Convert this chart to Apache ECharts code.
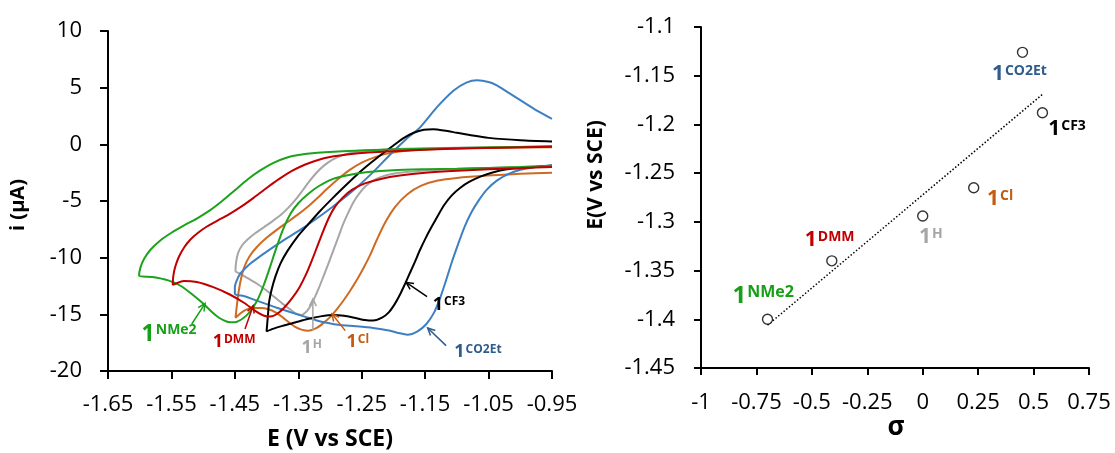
<!DOCTYPE html>
<html>
<head>
<meta charset="utf-8">
<title>Cyclic voltammetry and Hammett plot</title>
<style>
  html, body { margin: 0; padding: 0; background: #ffffff; }
  #chart { width: 1115px; height: 453px; }
</style>
<script src="https://cdn.jsdelivr.net/npm/echarts@6/dist/echarts.min.js"></script>
</head>
<body>
<div id="chart"></div>
<script>
// ---------- cyclic voltammograms: [E (V vs SCE), i (µA)], traced as closed loops ----------
const cvNMe2 = [
  [-0.95,-1.9],[-1.0,-2.0],[-1.05,-2.08],[-1.1,-2.15],[-1.15,-2.2],[-1.2,-2.28],[-1.24,-2.45],[-1.27,-2.7],
  [-1.295,-3.05],[-1.318,-3.7],[-1.335,-4.4],[-1.35,-5.2],[-1.362,-6.1],[-1.374,-7.5],[-1.385,-9.2],[-1.395,-10.9],
  [-1.405,-12.5],[-1.415,-13.8],[-1.426,-14.75],[-1.437,-15.35],[-1.45,-15.7],[-1.462,-15.65],[-1.475,-15.3],
  [-1.487,-14.75],[-1.5,-14.05],[-1.516,-13.3],[-1.535,-12.5],[-1.555,-12.0],[-1.58,-11.7],[-1.601,-11.6],
  [-1.599,-10.9],[-1.593,-10.1],[-1.583,-9.3],[-1.568,-8.5],[-1.55,-7.8],[-1.53,-7.15],[-1.51,-6.55],[-1.49,-5.85],
  [-1.47,-5.0],[-1.45,-4.05],[-1.43,-3.1],[-1.41,-2.3],[-1.39,-1.65],[-1.37,-1.2],[-1.35,-0.95],[-1.32,-0.75],
  [-1.28,-0.6],[-1.23,-0.5],[-1.15,-0.38],[-1.05,-0.27],[-0.95,-0.18]
];
const cvDMM = [
  [-0.95,-2.0],[-1.0,-2.1],[-1.05,-2.2],[-1.1,-2.32],[-1.15,-2.5],[-1.19,-2.75],[-1.22,-3.05],[-1.245,-3.45],
  [-1.265,-4.0],[-1.28,-4.7],[-1.292,-5.5],[-1.302,-6.5],[-1.311,-7.7],[-1.32,-9.0],[-1.329,-10.3],[-1.338,-11.5],
  [-1.348,-12.6],[-1.36,-13.6],[-1.372,-14.4],[-1.383,-14.95],[-1.394,-15.2],[-1.405,-15.1],[-1.418,-14.7],
  [-1.435,-14.0],[-1.458,-13.25],[-1.484,-12.6],[-1.51,-12.15],[-1.53,-12.05],[-1.548,-12.4],
  [-1.547,-11.6],[-1.544,-10.8],[-1.538,-9.9],[-1.53,-9.1],[-1.52,-8.4],[-1.508,-7.8],[-1.494,-7.25],[-1.478,-6.75],
  [-1.46,-6.2],[-1.44,-5.5],[-1.42,-4.7],[-1.4,-3.85],[-1.38,-3.05],[-1.36,-2.35],[-1.34,-1.8],[-1.32,-1.4],
  [-1.3,-1.12],[-1.27,-0.88],[-1.24,-0.72],[-1.2,-0.6],[-1.12,-0.42],[-1.03,-0.3],[-0.95,-0.22]
];
const cvH = [
  [-0.95,-1.9],[-1.0,-2.0],[-1.05,-2.08],[-1.1,-2.18],[-1.15,-2.3],[-1.18,-2.45],[-1.2,-2.6],[-1.218,-2.85],
  [-1.232,-3.2],[-1.244,-3.7],[-1.254,-4.35],[-1.263,-5.1],[-1.271,-6.0],[-1.279,-7.0],[-1.287,-8.2],[-1.295,-9.4],
  [-1.303,-10.6],[-1.31,-11.6],[-1.317,-12.6],[-1.324,-13.5],[-1.33,-14.2],[-1.337,-14.75],[-1.345,-15.05],
  [-1.353,-14.95],[-1.362,-14.6],[-1.374,-14.1],[-1.387,-13.5],[-1.4,-12.9],[-1.415,-12.3],[-1.43,-11.8],
  [-1.442,-11.4],[-1.449,-11.2],
  [-1.448,-10.4],[-1.445,-9.6],[-1.439,-8.95],[-1.43,-8.4],[-1.418,-7.85],[-1.404,-7.3],[-1.39,-6.75],
  [-1.376,-6.15],[-1.364,-5.5],[-1.353,-4.8],[-1.343,-4.05],[-1.333,-3.3],[-1.322,-2.55],[-1.31,-1.9],
  [-1.296,-1.35],[-1.28,-0.95],[-1.26,-0.7],[-1.23,-0.52],[-1.2,-0.42],[-1.1,-0.3],[-1.0,-0.23],[-0.95,-0.2]
];
const cvCl = [
  [-0.95,-2.5],[-1.0,-2.6],[-1.052,-2.76],[-1.1,-2.97],[-1.13,-3.2],[-1.156,-3.65],[-1.178,-4.4],[-1.197,-5.5],
  [-1.213,-6.9],[-1.226,-8.4],[-1.237,-9.8],[-1.248,-11.0],[-1.258,-12.0],[-1.268,-12.9],[-1.279,-13.8],
  [-1.29,-14.6],[-1.3,-15.25],[-1.311,-15.8],[-1.321,-16.2],[-1.334,-16.45],[-1.345,-16.35],[-1.355,-16.1],
  [-1.365,-15.7],[-1.375,-15.25],[-1.385,-14.85],[-1.397,-14.55],[-1.41,-14.45],[-1.422,-14.45],[-1.433,-14.6],
  [-1.441,-14.9],[-1.449,-15.3],
  [-1.447,-14.3],[-1.444,-13.0],[-1.44,-11.8],[-1.435,-10.8],[-1.427,-9.9],[-1.416,-9.1],[-1.4,-8.25],[-1.384,-7.55],
  [-1.368,-6.9],[-1.352,-6.25],[-1.336,-5.55],[-1.321,-4.8],[-1.305,-3.95],[-1.289,-3.15],[-1.27,-2.3],[-1.25,-1.62],
  [-1.23,-1.15],[-1.21,-0.82],[-1.184,-0.58],[-1.126,-0.4],[-1.05,-0.3],[-0.95,-0.25]
];
const cvCF3 = [
  [-0.95,-1.9],[-0.99,-2.05],[-1.021,-2.2],[-1.045,-2.5],[-1.063,-2.85],[-1.08,-3.3],[-1.095,-3.85],[-1.108,-4.5],
  [-1.12,-5.35],[-1.13,-6.3],[-1.14,-7.3],[-1.149,-8.25],[-1.158,-9.3],[-1.166,-10.35],[-1.174,-11.35],
  [-1.182,-12.35],[-1.19,-13.3],[-1.198,-14.1],[-1.207,-14.8],[-1.218,-15.3],[-1.232,-15.55],[-1.245,-15.5],
  [-1.26,-15.32],[-1.278,-15.12],[-1.295,-15.05],[-1.315,-15.18],[-1.335,-15.42],[-1.355,-15.72],[-1.375,-16.02],
  [-1.39,-16.28],[-1.4,-16.5],
  [-1.398,-15.2],[-1.396,-13.9],[-1.392,-12.8],[-1.386,-11.65],[-1.378,-10.5],[-1.367,-9.4],[-1.352,-8.2],
  [-1.335,-7.1],[-1.316,-5.9],[-1.295,-4.7],[-1.273,-3.5],[-1.255,-2.55],[-1.237,-1.7],[-1.218,-0.85],[-1.2,-0.1],
  [-1.184,0.55],[-1.168,1.02],[-1.152,1.28],[-1.137,1.33],[-1.12,1.22],[-1.1,1.02],[-1.075,0.77],[-1.05,0.57],
  [-1.0,0.36],[-0.95,0.25]
];
const cvCO2Et = [
  [-0.95,-1.85],[-0.975,-2.0],[-1.0,-2.25],[-1.02,-2.65],[-1.037,-3.2],[-1.052,-3.95],[-1.065,-4.9],[-1.077,-6.0],
  [-1.088,-7.3],[-1.098,-8.8],[-1.108,-10.4],[-1.117,-12.0],[-1.126,-13.5],[-1.136,-14.85],[-1.148,-15.85],
  [-1.162,-16.5],[-1.178,-16.8],[-1.192,-16.65],[-1.205,-16.45],[-1.232,-16.2],[-1.26,-16.05],[-1.284,-15.95],
  [-1.305,-15.75],[-1.322,-15.52],[-1.34,-15.2],[-1.363,-14.8],[-1.385,-14.4],[-1.4,-14.1],[-1.42,-13.7],
  [-1.435,-13.4],[-1.45,-13.2],
  [-1.45,-12.6],[-1.447,-12.0],[-1.442,-11.45],[-1.434,-10.95],[-1.424,-10.45],[-1.412,-9.95],[-1.398,-9.4],
  [-1.374,-8.5],[-1.347,-7.55],[-1.31,-6.1],[-1.284,-5.0],[-1.258,-3.8],[-1.232,-2.45],[-1.205,-0.9],[-1.18,0.45],
  [-1.158,1.5],[-1.131,3.3],[-1.105,4.75],[-1.085,5.45],[-1.068,5.65],[-1.05,5.5],[-1.037,5.2],[-1.02,4.6],
  [-1.0,3.9],[-0.973,2.95],[-0.95,2.25]
];

// ---------- Hammett plot ----------
const substituents = ['NMe2', 'DMM', 'H', 'Cl', 'CO2Et', 'CF3'];
const sigmaValues  = [-0.70, -0.41, 0.00, 0.23, 0.45, 0.54];
const e12Values    = [-1.400, -1.340, -1.294, -1.265, -1.126, -1.188];

// ---------- tick labels ----------
const cvPotentialTicks = [-1.65, -1.55, -1.45, -1.35, -1.25, -1.15, -1.05, -0.95];
const cvCurrentTicks   = [-20, -15, -10, -5, 0, 5, 10];
const sigmaTicks       = [-1, -0.75, -0.5, -0.25, 0, 0.25, 0.5, 0.75];
const e12Ticks         = [-1.45, -1.4, -1.35, -1.3, -1.25, -1.2, -1.15, -1.1];

// ---------- styles ----------
const FONT = 'Open Sans';
const COLORS = {
  NMe2:  { line: '#1ca21c', text: '#17a017' },
  DMM:   { line: '#c00000', text: '#c00000' },
  H:     { line: '#a6a6a6', text: '#a6a6a6' },
  Cl:    { line: '#cf6a21', text: '#c55a11' },
  CF3:   { line: '#000000', text: '#000000' },
  CO2Et: { line: '#3d7fc1', text: '#2f5c8c' }
};

// annotation anchors in data units (label: left edge / middle of the "1")
const cvTags = [
  { sub: 'NMe2',  at: [-1.597, -16.75], tail: [-1.518, -15.85], head: [-1.497, -14.05], big: true },
  { sub: 'DMM',   at: [-1.485, -17.47], tail: [-1.434, -16.29], head: [-1.421, -14.23] },
  { sub: 'H',     at: [-1.345, -17.94], tail: [-1.327, -16.44], head: [-1.327, -13.64] },
  { sub: 'Cl',    at: [-1.274, -17.47], tail: [-1.276, -16.44], head: [-1.297, -14.95] },
  { sub: 'CF3',   at: [-1.138, -14.14], tail: [-1.147, -13.44], head: [-1.180, -12.18] },
  { sub: 'CO2Et', at: [-1.104, -18.35], tail: [-1.117, -17.76], head: [-1.146, -16.20] }
];
const sigmaTags = [
  { sub: 'NMe2',  at: [-0.858, -1.3764], big: true },
  { sub: 'DMM',   at: [-0.532, -1.3190] },
  { sub: 'H',     at: [-0.017, -1.3160] },
  { sub: 'Cl',    at: [ 0.290, -1.2767] },
  { sub: 'CO2Et', at: [ 0.312, -1.1487] },
  { sub: 'CF3',   at: [ 0.566, -1.2050] }
];

// least-squares line through the Hammett points
function linearFit(xs, ys) {
  const n = xs.length;
  const mx = xs.reduce((a, b) => a + b, 0) / n;
  const my = ys.reduce((a, b) => a + b, 0) / n;
  let sxy = 0, sxx = 0;
  for (let k = 0; k < n; k++) { sxy += (xs[k] - mx) * (ys[k] - my); sxx += (xs[k] - mx) ** 2; }
  const slope = sxy / sxx;
  return { slope, intercept: my - slope * mx };
}
const fit = linearFit(sigmaValues, e12Values);
const sMin = Math.min(...sigmaValues), sMax = Math.max(...sigmaValues);
const trendLine = [[sMin, fit.intercept + fit.slope * sMin], [sMax, fit.intercept + fit.slope * sMax]];

// open arrow head as a polyline ending at the tip
function arrowHead(p0, p1, len, ang) {
  const a = Math.atan2(p1[1] - p0[1], p1[0] - p0[0]);
  return [
    [p1[0] - len * Math.cos(a - ang), p1[1] - len * Math.sin(a - ang)],
    [p1[0], p1[1]],
    [p1[0] - len * Math.cos(a + ang), p1[1] - len * Math.sin(a + ang)]
  ];
}

function tagText(tag, colour, sizes) {
  const s = tag.big ? sizes.big : sizes.normal;
  return {
    type: 'text',
    style: {
      text: '{one|1}{sup|' + tag.sub + '}',
      align: 'left',
      verticalAlign: 'middle',
      rich: {
        one: { fontFamily: FONT, fontWeight: 'bold', fontSize: s[0], fill: colour, verticalAlign: 'bottom' },
        sup: { fontFamily: FONT, fontWeight: 'bold', fontSize: s[1], fill: colour, verticalAlign: 'top', padding: [0, 0, 0, 1] }
      }
    }
  };
}

function tagSeries(tags, axisIndex, sizes) {
  return {
    type: 'custom',
    xAxisIndex: axisIndex,
    yAxisIndex: axisIndex,
    silent: true,
    clip: false,
    z: 10,
    data: tags.map(t => [t.at[0], t.at[1]]),
    encode: { x: 0, y: 1 },
    renderItem(params, api) {
      const tag = tags[params.dataIndex];
      const colour = COLORS[tag.sub].text;
      const children = [];
      if (tag.tail) {
        const a = api.coord(tag.tail);
        const b = api.coord(tag.head);
        children.push({
          type: 'line',
          shape: { x1: a[0], y1: a[1], x2: b[0], y2: b[1] },
          style: { stroke: colour, lineWidth: 1.5 }
        });
        children.push({
          type: 'polyline',
          shape: { points: arrowHead(a, b, 8, 0.45) },
          style: { stroke: colour, fill: null, lineWidth: 1.5 }
        });
      }
      const p = api.coord(tag.at);
      const txt = tagText(tag, colour, sizes);
      txt.x = p[0];
      txt.y = p[1];
      children.push(txt);
      return { type: 'group', children };
    }
  };
}

const axisLineStyle = { color: '#000', width: 2 };
const tickLabelStyle = { fontFamily: FONT, fontSize: 22, color: '#000' };
const trimNum = v => String(+Number(v).toFixed(2));

const cvSeries = [
  ['H', cvH], ['Cl', cvCl], ['CO2Et', cvCO2Et], ['CF3', cvCF3], ['NMe2', cvNMe2], ['DMM', cvDMM]
].map(([sub, pts]) => ({
  name: sub,
  type: 'line',
  xAxisIndex: 0,
  yAxisIndex: 0,
  data: pts,
  showSymbol: false,
  symbol: 'none',
  smooth: 0.25,
  lineStyle: { color: COLORS[sub].line, width: 2 },
  silent: true
}));

const option = {
  animation: false,
  backgroundColor: '#ffffff',
  grid: [
    { left: 108, top: 31, width: 444, height: 340, outerBoundsMode: 'none' },
    { left: 701, top: 27, width: 388, height: 341, outerBoundsMode: 'none' }
  ],
  xAxis: [
    {
      gridIndex: 0, type: 'value', min: -1.65, max: -0.95,
      axisLine: { show: true, onZero: false, lineStyle: axisLineStyle },
      axisTick: { show: true, inside: false, length: 8, lineStyle: { color: '#000', width: 2 }, customValues: cvPotentialTicks },
      axisLabel: Object.assign({ margin: 23, customValues: cvPotentialTicks, formatter: v => Number(v).toFixed(2) }, tickLabelStyle),
      splitLine: { show: false }
    },
    {
      gridIndex: 1, type: 'value', min: -1, max: 0.75,
      axisLine: { show: true, onZero: false, lineStyle: axisLineStyle },
      axisTick: { show: true, inside: false, length: 7, lineStyle: { color: '#000', width: 2 }, customValues: sigmaTicks },
      axisLabel: Object.assign({ margin: 24, customValues: sigmaTicks, formatter: trimNum }, tickLabelStyle),
      splitLine: { show: false }
    }
  ],
  yAxis: [
    {
      gridIndex: 0, type: 'value', min: -20, max: 10,
      axisLine: { show: true, onZero: false, lineStyle: axisLineStyle },
      axisTick: { show: true, inside: false, length: 8, lineStyle: { color: '#000', width: 2 }, customValues: cvCurrentTicks },
      axisLabel: Object.assign({ margin: 26, customValues: cvCurrentTicks, formatter: trimNum }, tickLabelStyle),
      splitLine: { show: false }
    },
    {
      gridIndex: 1, type: 'value', min: -1.45, max: -1.1,
      axisLine: { show: true, onZero: false, lineStyle: axisLineStyle },
      axisTick: { show: true, inside: false, length: 7, lineStyle: { color: '#000', width: 2 }, customValues: e12Ticks },
      axisLabel: Object.assign({ margin: 26, customValues: e12Ticks, formatter: trimNum }, tickLabelStyle),
      splitLine: { show: false }
    }
  ],
  graphic: [
    { type: 'text', x: 18, y: 205, rotation: Math.PI / 2,
      style: { text: 'i (µA)', fontFamily: FONT, fontWeight: 'bold', fontSize: 20, fill: '#000', align: 'center', verticalAlign: 'middle' } },
    { type: 'text', x: 330, y: 439,
      style: { text: 'E (V vs SCE)', fontFamily: FONT, fontWeight: 'bold', fontSize: 23, fill: '#000', align: 'center', verticalAlign: 'middle' } },
    { type: 'text', x: 596, y: 175, rotation: Math.PI / 2,
      style: { text: 'E(V vs SCE)', fontFamily: FONT, fontWeight: 'bold', fontSize: 21, fill: '#000', align: 'center', verticalAlign: 'middle' } },
    { type: 'text', x: 896, y: 428,
      style: { text: 'σ', fontFamily: FONT, fontWeight: 'bold', fontSize: 26, fill: '#000', align: 'center', verticalAlign: 'middle' } }
  ],
  series: cvSeries.concat([
    tagSeries(cvTags, 0, { normal: [18, 12], big: [23, 14] }),
    {
      name: 'fit',
      type: 'line',
      xAxisIndex: 1,
      yAxisIndex: 1,
      data: trendLine,
      showSymbol: false,
      symbol: 'none',
      lineStyle: { color: '#000', width: 1.5, type: [1.5, 2] },
      silent: true,
      z: 2
    },
    {
      name: 'E1/2',
      type: 'scatter',
      xAxisIndex: 1,
      yAxisIndex: 1,
      data: sigmaValues.map((s, k) => [s, e12Values[k]]),
      symbol: 'circle',
      symbolSize: 10,
      itemStyle: { color: '#ffffff', borderColor: '#000000', borderWidth: 1.4 },
      silent: true,
      z: 5
    },
    tagSeries(sigmaTags, 1, { normal: [21, 14], big: [24, 16] })
  ])
};

const chart = echarts.init(document.getElementById('chart'), null, { renderer: 'canvas' });
chart.setOption(option);
</script>
</body>
</html>
